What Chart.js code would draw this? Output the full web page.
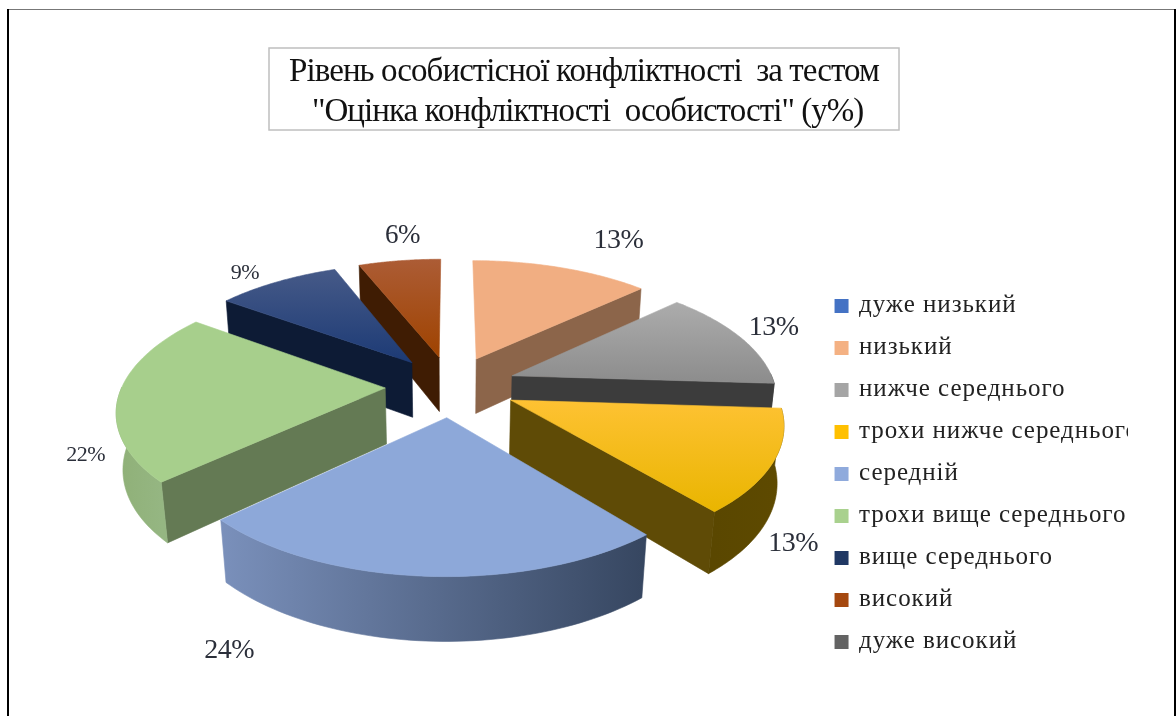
<!DOCTYPE html>
<html>
<head>
<meta charset="utf-8">
<style>
    html, body { margin: 0; padding: 0; background: #fff; }
    canvas { display: block; }
</style>
<script src="https://cdn.jsdelivr.net/npm/chart.js@4/dist/chart.umd.min.js"></script>
</head>
<body>
<canvas id="conflictChart" width="1176" height="716"></canvas>
<script>
const categories = [
    'дуже низький', 'низький', 'нижче середнього', 'трохи нижче середнього',
    'середній', 'трохи вище середнього', 'вище середнього', 'високий', 'дуже високий'
];
const percentValues = [0, 13, 13, 13, 24, 22, 9, 6, 0];
const titleLines = [
    'Рівень особистісної конфліктності  за тестом',
    ' "Оцінка конфліктності  особистості" (у%)'
];

// legend colour, then top gradient (back -> front), wall and rim colours for each slice
const legendColors = ['#4472c4', '#f4b183', '#a5a5a5', '#ffc000', '#8faadc', '#a9d18e', '#203864', '#a5480f', '#636363'];
const topGradients = [
    ['#4472c4', '#4472c4'], ['#f1ae82', '#f1ae82'], ['#acacac', '#8c8c8c'], ['#fec233', '#e9b500'],
    ['#8da8d9', '#8da8d9'], ['#a7cf8c', '#a7cf8c'], ['#465a88', '#1c3a75'], ['#ac5c35', '#9f4300'], ['#636363', '#636363']
];
const wallColors = ['#222', '#8c654a', '#3c3c3c', '#5f4b06', '#3a4760', '#647a54', '#0d1b35', '#3f1c03', '#222'];
const rimGradients = [
    ['#222', '#222'], ['#8c654a', '#8c654a'], ['#3c3c3c', '#3c3c3c'], ['#5a4700', '#5e4a00'],
    ['#7a90bb', '#364660'], ['#8fb077', '#95b682'], ['#0d1b35', '#0d1b35'], ['#3f1c03', '#3f1c03'], ['#222', '#222']
];
// label placement relative to the rim point at the middle of each slice
const labelNudges = [[0, 0], [57, -27], [33, -10], [20, 81], [-196, 74], [-33, 60], [-32, -9], [3, -25], [0, 0]];
const labelSizes = [0, 28, 28, 28, 28, 22, 22, 27, 0];

const pieRadius = 263;
const explodeOption = 263; // Chart.js draws offset / 4 along the slice's middle angle
const view = { cx: 451, cy: 386, squash: 0.464, persp: 0.16, depth: 57, depthPersp: 0.02 };

function project(x, y, z) {
    // x, y in the pie plane (y towards the viewer), z = 0 on top, 1 on the bottom
    const w = 1 - view.persp * y / pieRadius + view.depthPersp * z;
    return {
        x: view.cx + x / w,
        y: view.cy + (view.squash * y + view.depth * z) / w
    };
}

function fillFace(ctx, pts, style) {
    ctx.beginPath();
    pts.forEach((p, i) => i ? ctx.lineTo(p.x, p.y) : ctx.moveTo(p.x, p.y));
    ctx.closePath();
    ctx.fillStyle = style;
    ctx.strokeStyle = style;
    ctx.lineWidth = 0.6;
    ctx.fill();
    ctx.stroke();
}

const pie3d = {
    id: 'pie3d',
    beforeDatasetDraw(chart) {
        const ctx = chart.ctx;
        const arcs = chart.getDatasetMeta(0).data;
        const order = arcs.map((arc, i) => i).filter(i => arcs[i].circumference > 0);
        const mid = i => (arcs[i].startAngle + arcs[i].endAngle) / 2 + Math.PI / 2;
        order.sort((a, b) => Math.cos(mid(b)) - Math.cos(mid(a)));

        order.forEach(i => {
            const arc = arcs[i];
            const R = arc.outerRadius;
            const a0 = arc.startAngle + Math.PI / 2;
            const a1 = arc.endAngle + Math.PI / 2;
            const m = (a0 + a1) / 2;
            const off = arc.options.offset / 4;
            const ox = off * Math.sin(m);
            const oy = -off * Math.cos(m);
            const at = (a, z) => project(ox + R * Math.sin(a), oy - R * Math.cos(a), z);
            const apex = z => project(ox, oy, z);

            // straight cut faces turned towards the viewer
            if (Math.sin(a0) < 0) fillFace(ctx, [apex(0), at(a0, 0), at(a0, 1), apex(1)], wallColors[i]);
            if (Math.sin(a1) > 0) fillFace(ctx, [apex(0), at(a1, 0), at(a1, 1), apex(1)], wallColors[i]);

            // outer rim, only where it faces front
            const steps = 60;
            const top = [];
            const bottom = [];
            for (let s = 0; s <= steps; s++) {
                const a = a0 + (a1 - a0) * s / steps;
                if (Math.cos(a) <= 0.02) {
                    top.push(at(a, 0));
                    bottom.unshift(at(a, 1));
                }
            }
            if (top.length > 1) {
                const xs = top.map(p => p.x);
                const rimGrad = ctx.createLinearGradient(Math.min(...xs), 0, Math.max(...xs), 0);
                rimGrad.addColorStop(0, rimGradients[i][0]);
                rimGrad.addColorStop(1, rimGradients[i][1]);
                fillFace(ctx, top.concat(bottom), rimGrad);
            }

            // top face
            const outline = [apex(0)];
            for (let s = 0; s <= steps; s++) outline.push(at(a0 + (a1 - a0) * s / steps, 0));
            const ys = outline.map(p => p.y);
            const grad = ctx.createLinearGradient(0, Math.min(...ys), 0, Math.max(...ys));
            grad.addColorStop(0, topGradients[i][0]);
            grad.addColorStop(1, topGradients[i][1]);
            fillFace(ctx, outline, grad);
        });
        return false;
    },
    afterDatasetsDraw(chart) {
        const ctx = chart.ctx;
        const arcs = chart.getDatasetMeta(0).data;
        ctx.save();
        ctx.textAlign = 'center';
        ctx.textBaseline = 'middle';
        ctx.fillStyle = '#2b2f3a';
        ctx.letterSpacing = '-0.5px';
        arcs.forEach((arc, i) => {
            if (!arc.circumference) return;
            const m = (arc.startAngle + arc.endAngle) / 2 + Math.PI / 2;
            const r = arc.outerRadius + arc.options.offset / 4;
            const p = project(r * Math.sin(m), -r * Math.cos(m), 0);
            ctx.font = labelSizes[i] + 'px "Liberation Serif"';
            ctx.fillText(percentValues[i] + '%', p.x + labelNudges[i][0], p.y + labelNudges[i][1]);
        });
        ctx.restore();
    }
};

const pageFrame = {
    id: 'pageFrame',
    beforeDraw(chart) {
        const ctx = chart.ctx;
        ctx.save();
        ctx.fillStyle = '#fff';
        ctx.fillRect(0, 0, chart.width, chart.height);
        ctx.fillStyle = '#777';
        ctx.fillRect(8, 9, 1166, 1);
        ctx.fillStyle = '#000';
        ctx.fillRect(7, 9, 2, 707);
        ctx.fillRect(1174, 9, 2, 707);
        // title box
        ctx.strokeStyle = '#bfbfbf';
        ctx.lineWidth = 1.5;
        ctx.strokeRect(269, 48, 630, 82);
        ctx.restore();
    }
};

// The source sets the legend wider and the title tighter than the plain font
const legendSpacing = '0.95px';
const titleSpacing = '-0.95px';
const textSpacing = {
    id: 'textSpacing',
    beforeInit(chart) { chart.ctx.letterSpacing = legendSpacing; },
    beforeDraw(chart) {
        const ctx = chart.ctx;
        ctx.letterSpacing = legendSpacing;
        const title = chart.titleBlock;
        if (!title._spaced) {
            const drawTitle = title.draw;
            title.draw = function () {
                ctx.letterSpacing = titleSpacing;
                drawTitle.apply(title, arguments);
                ctx.letterSpacing = legendSpacing;
            };
            title._spaced = true;
        }
    }
};

const conflictCtx = document.getElementById('conflictChart').getContext('2d');
window.conflictChart = new Chart(conflictCtx, {
    type: 'pie',
    data: {
        labels: categories,
        datasets: [{
            data: percentValues,
            backgroundColor: legendColors,
            borderColor: legendColors,
            borderWidth: 4,
            offset: explodeOption
        }]
    },
    options: {
        responsive: false,
        animation: false,
        events: [],
        radius: pieRadius,
        layout: { padding: { left: 40, right: 48 } },
        plugins: {
            title: {
                display: true,
                text: titleLines,
                color: '#111',
                font: { family: '"Liberation Serif"', size: 33, weight: 'normal', lineHeight: 1.21 },
                padding: { top: 52, bottom: 100 }
            },
            legend: {
                position: 'right',
                fullSize: false,
                labels: {
                    color: '#222',
                    font: { family: '"Liberation Serif"', size: 25 },
                    boxWidth: 10,
                    boxHeight: 10,
                    padding: 17
                }
            },
            tooltip: { enabled: false }
        }
    },
    plugins: [pageFrame, textSpacing, pie3d]
});
</script>
</body>
</html>
